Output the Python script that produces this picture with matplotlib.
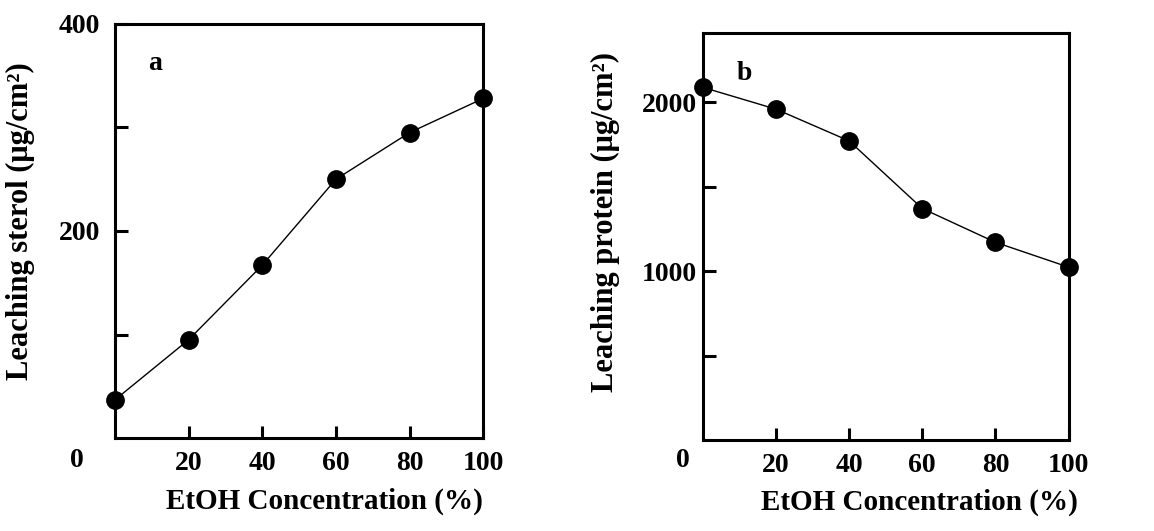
import numpy as np
import matplotlib.pyplot as plt

plt.rcParams['font.family'] = 'Liberation Serif'
plt.rcParams['font.weight'] = 'bold'

# Data
etoh = [0, 20, 40, 60, 80, 100]
sterol = [37, 95, 167, 250, 295, 328]
protein = [2088, 1959, 1771, 1371, 1171, 1024]

x_ticks = [20, 40, 60, 80, 100]
sterol_ticks = [100, 200, 300, 400]
sterol_labels = ['', '200', '', '400']
protein_ticks = [500, 1000, 1500, 2000]
protein_labels = ['', '1000', '', '2000']

fig = plt.figure(figsize=(11.54, 5.31), dpi=100)
ax_a = fig.add_axes([0.0997, 0.175, 0.319, 0.780])
ax_b = fig.add_axes([0.609, 0.171, 0.317, 0.767])

fs = 20


def style(ax, yticks, ylabels, ypad):
    for s in ax.spines.values():
        s.set_linewidth(2.2)
    ax.set_xlim(0, 100)
    ax.set_xticks(x_ticks)
    ax.set_xticklabels([str(t) for t in x_ticks], fontsize=fs, fontweight='bold')
    ax.set_yticks(yticks)
    ax.set_yticklabels(ylabels, fontsize=fs, fontweight='bold')
    ax.tick_params(axis='both', direction='in', length=9, width=2.2)
    ax.tick_params(axis='x', pad=9)
    ax.tick_params(axis='y', pad=ypad)


# Panel a
ax_a.plot(etoh, sterol, color='black', linewidth=1.0, marker='o',
          markersize=12.5, clip_on=False, zorder=3)
ax_a.set_ylim(0, 400)
style(ax_a, sterol_ticks, sterol_labels, 11)
ax_a.set_ylabel('Leaching sterol (μg/cm²)', fontsize=22, fontweight='bold')
ax_a.yaxis.set_label_coords(-0.217, 0.524)
ax_a.set_xlabel('EtOH Concentration (%)', fontsize=21, fontweight='bold')
ax_a.xaxis.set_label_coords(0.568, -0.12)
ax_a.text(-0.103, -0.053, '0', transform=ax_a.transAxes, ha='center',
          va='center', fontsize=fs, fontweight='bold')
ax_a.text(0.11, 0.905, 'a', transform=ax_a.transAxes, ha='center',
          va='center', fontsize=fs, fontweight='bold')

# Panel b
ax_b.plot(etoh, protein, color='black', linewidth=1.0, marker='o',
          markersize=12.5, clip_on=False, zorder=3)
ax_b.set_ylim(0, 2410)
style(ax_b, protein_ticks, protein_labels, 4)
ax_b.set_ylabel('Leaching protein (μg/cm²)', fontsize=22, fontweight='bold')
ax_b.yaxis.set_label_coords(-0.227, 0.536)
ax_b.set_xlabel('EtOH Concentration (%)', fontsize=21, fontweight='bold')
ax_b.xaxis.set_label_coords(0.593, -0.118)
ax_b.text(-0.055, -0.049, '0', transform=ax_b.transAxes, ha='center',
          va='center', fontsize=fs, fontweight='bold')
ax_b.text(0.115, 0.9, 'b', transform=ax_b.transAxes, ha='center',
          va='center', fontsize=fs, fontweight='bold')

fig.savefig('out.png', dpi=100)
